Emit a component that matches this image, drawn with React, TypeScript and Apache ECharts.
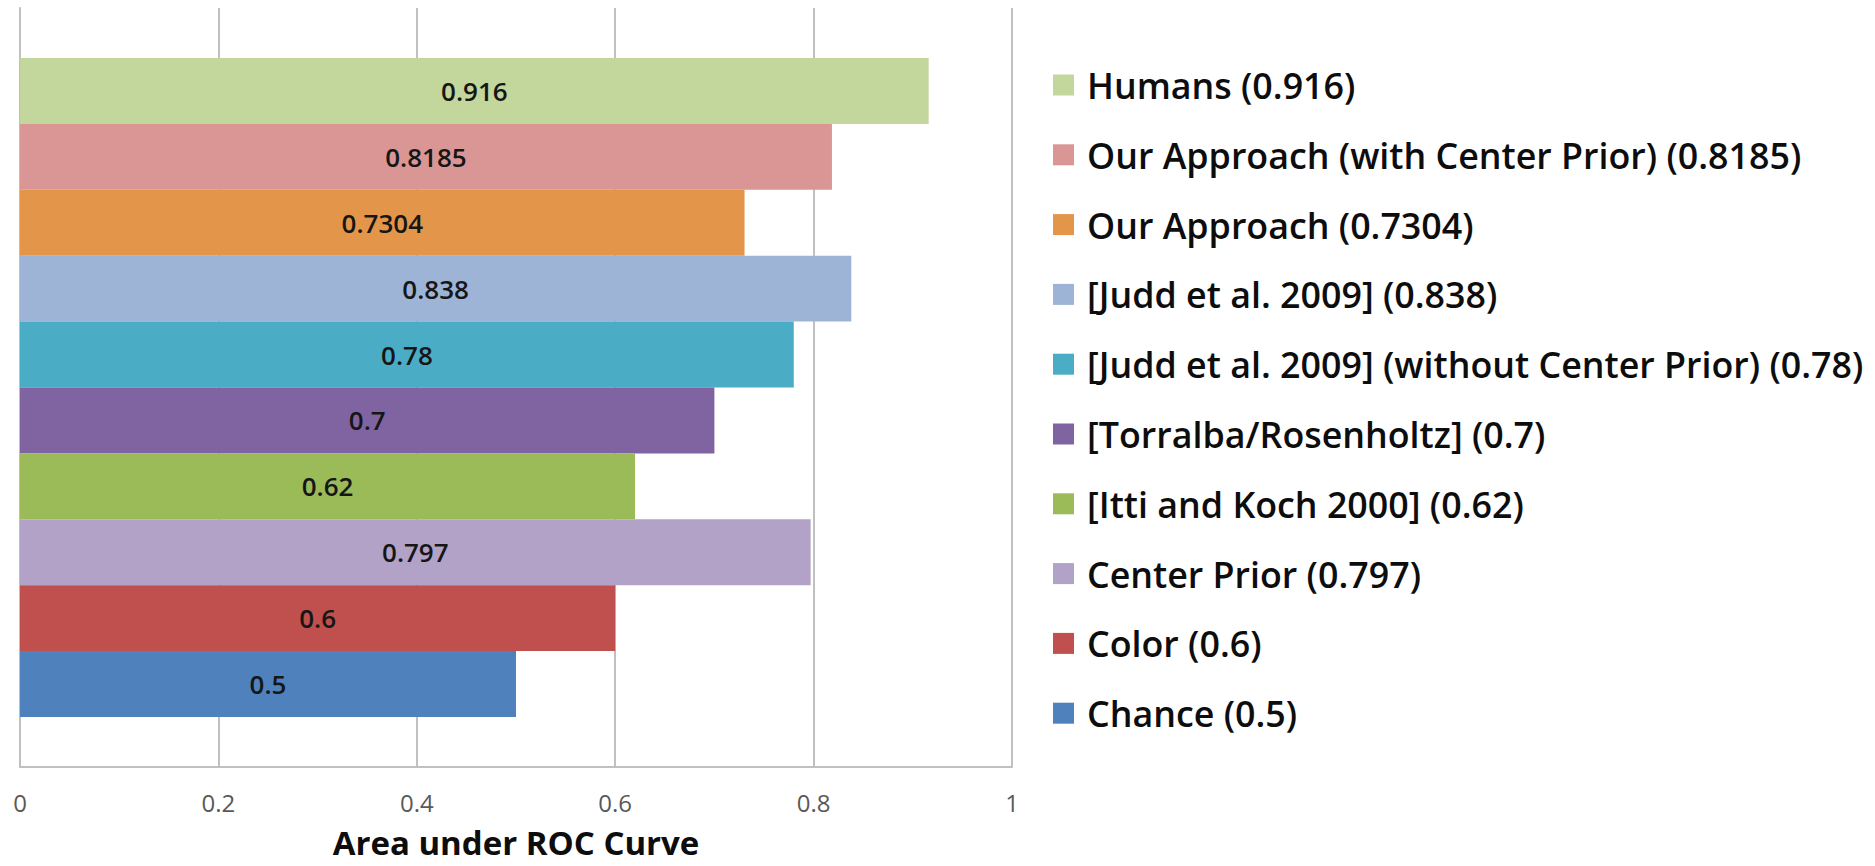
import React, { useEffect, useRef } from "react";
import * as echarts from "echarts";

const methods = [
  "Humans",
  "Our Approach (with Center Prior)",
  "Our Approach",
  "[Judd et al. 2009]",
  "[Judd et al. 2009] (without Center Prior)",
  "[Torralba/Rosenholtz]",
  "[Itti and Koch 2000]",
  "Center Prior",
  "Color",
  "Chance",
];
const aucValues = [0.916, 0.8185, 0.7304, 0.838, 0.78, 0.7, 0.62, 0.797, 0.6, 0.5];
const barColors = [
  "#c3d69b",
  "#d99694",
  "#e3964a",
  "#9db4d7",
  "#4bacc6",
  "#8064a2",
  "#9bbb59",
  "#b3a2c7",
  "#c0504d",
  "#4f81bd",
];
const xTicks = [0, 0.2, 0.4, 0.6, 0.8, 1];

export default function App() {
  const ref = useRef<HTMLDivElement>(null);
  useEffect(() => {
    if (!ref.current) return;
    const chart = echarts.init(ref.current, null, { renderer: "svg" });
    const font = "'Open Sans', 'Noto Sans', sans-serif";
    const series = methods.map((m, i) => ({
      type: "bar",
      name: `${m} (${aucValues[i]})`,
      data: [aucValues[i]],
      barGap: "0%",
      barCategoryGap: "13.2%",
      itemStyle: { color: barColors[i] },
      label: {
        show: true,
        position: "inside",
        formatter: () => String(aucValues[i]),
        color: "#161616",
        fontFamily: font,
        fontWeight: 600,
        fontSize: 26,
      },
    }));
    chart.setOption({
      animation: false,
      backgroundColor: "#ffffff",
      grid: { left: 20, right: 863, top: 8, bottom: 99, containLabel: false },
      legend: {
        orient: "vertical",
        left: 1053,
        top: 65,
        padding: 0,
        icon: "rect",
        itemWidth: 21,
        itemHeight: 21,
        itemGap: 29.8,
        selectedMode: false,
        textStyle: {
          fontFamily: font,
          fontWeight: 600,
          fontSize: 35.8,
          lineHeight: 40,
          color: "#0d0d0d",
          padding: [0, 0, 0, 8],
        },
        data: series.map((s) => s.name),
      },
      xAxis: {
        type: "value",
        min: xTicks[0],
        max: xTicks[xTicks.length - 1],
        interval: 0.2,
        name: "Area under ROC Curve",
        nameLocation: "middle",
        nameGap: 58.5,
        nameTextStyle: {
          fontFamily: font,
          fontWeight: 700,
          fontSize: 33,
          lineHeight: 33,
          color: "#0d0d0d",
        },
        axisLine: { show: true, lineStyle: { color: "#c0c0c0", width: 2 } },
        axisTick: { show: false },
        axisLabel: {
          margin: 23,
          fontFamily: font,
          fontSize: 24,
          lineHeight: 24,
          color: "#595959",
          formatter: (v: number) => String(v),
        },
        splitLine: { show: true, lineStyle: { color: "#c0c0c0", width: 2 } },
      },
      yAxis: {
        type: "category",
        inverse: true,
        data: [""],
        axisLine: { show: true, lineStyle: { color: "#c0c0c0", width: 2 } },
        axisTick: { show: false },
        axisLabel: { show: false },
      },
      series,
    });
    return () => chart.dispose();
  }, []);
  return (
    <div
      ref={ref}
      style={{ position: "fixed", left: 0, top: 0, width: 1875, height: 866, background: "#fff" }}
    />
  );
}
